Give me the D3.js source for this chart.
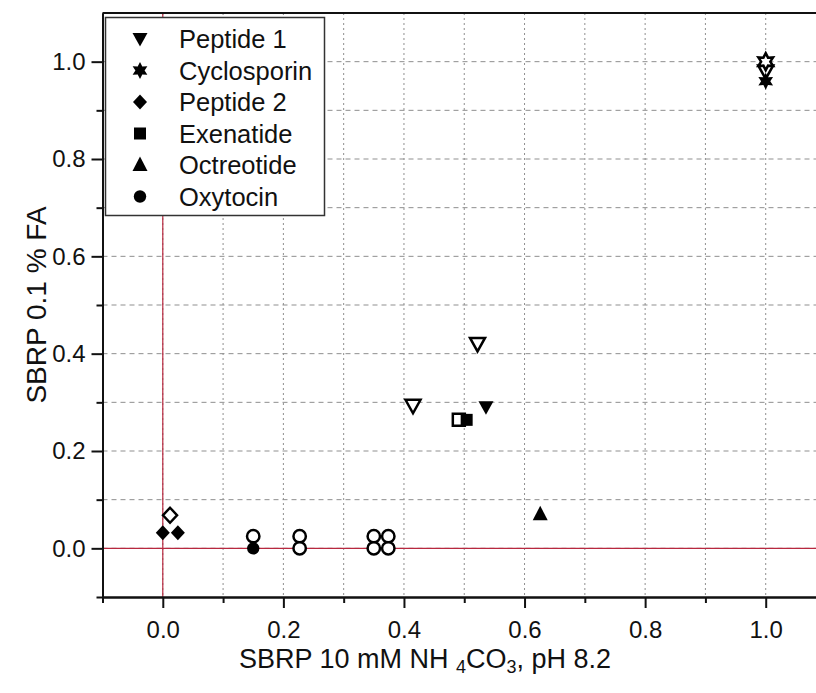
<!DOCTYPE html>
<html>
<head>
<meta charset="utf-8">
<script src="https://cdn.jsdelivr.net/npm/d3@7/dist/d3.min.js"></script>
<style>
  html, body { margin: 0; padding: 0; background: #fff; }
  svg { display: block; }
  text { font-family: "Liberation Sans", Arial, sans-serif; fill: #111; }
</style>
</head>
<body>
<div id="chart"></div>
<script>
// Compounds in legend order, with their marker shape
const compounds = ["Peptide 1", "Cyclosporin", "Peptide 2", "Exenatide", "Octreotide", "Oxytocin"];
const shapes = ["triangleDown", "star6", "diamond", "square", "triangleUp", "circle"];

// Filled markers: [x, y] per compound
const filledPoints = [
  [[0.536, 0.29]],
  [[1.0, 0.96]],
  [[0.0, 0.032], [0.025, 0.032]],
  [[0.504, 0.264]],
  [[0.626, 0.07]],
  [[0.15, 0.0]]
];

// Open markers: [x, y] per compound
const openPoints = [
  [[0.415, 0.293], [0.522, 0.42], [1.0, 0.98]],
  [[1.0, 1.0]],
  [[0.012, 0.068]],
  [[0.491, 0.264]],
  [],
  [[0.15, 0.025], [0.227, 0.025], [0.227, 0.0], [0.35, 0.025], [0.35, 0.0], [0.374, 0.025], [0.374, 0.0]]
];

const xMajor = [0.0, 0.2, 0.4, 0.6, 0.8, 1.0];
const yMajor = [0.0, 0.2, 0.4, 0.6, 0.8, 1.0];
const minorSteps = [-0.1, 0.1, 0.3, 0.5, 0.7, 0.9];
const gridSteps = [0.0, 0.1, 0.2, 0.3, 0.4, 0.5, 0.6, 0.7, 0.8, 0.9, 1.0];

const W = 816, H = 693;
const svg = d3.select("#chart").append("svg")
  .attr("width", W).attr("height", H);

const x = d3.scaleLinear().domain([-0.1, 1.1]).range([102.5, 826]);
const y = d3.scaleLinear().domain([-0.1, 1.1]).range([597, 13]);

// Marker path generators
function markerPath(shape) {
  switch (shape) {
    case "triangleDown": return "M-7.5,-6L7.5,-6L0,7.5Z";
    case "triangleUp": return "M0,-8.5L7.5,6L-7.5,6Z";
    case "square": return "M-6,-6H6V6H-6Z";
    case "diamond": return "M0,-7.5L7,0L0,7.5L-7,0Z";
    case "circle": return d3.arc()({innerRadius: 0, outerRadius: 6.2, startAngle: 0, endAngle: 2 * Math.PI});
    case "star6": {
      const pts = d3.range(12).map(i => {
        const r = i % 2 === 0 ? 8.5 : 4.6;
        const a = i * Math.PI / 6 - Math.PI / 2;
        return [r * Math.cos(a), r * Math.sin(a)];
      });
      return "M" + pts.map(p => p.join(",")).join("L") + "Z";
    }
  }
}

// Grid: dotted verticals, dashed horizontals
const grid = svg.append("g");
grid.selectAll("line.vg").data(gridSteps.concat([1.1])).join("line")
  .attr("x1", d => x(d)).attr("x2", d => x(d))
  .attr("y1", y(1.1)).attr("y2", y(-0.1))
  .attr("stroke", "#8f8f8f").attr("stroke-width", 1)
  .attr("stroke-dasharray", "2,3");
grid.selectAll("line.hg").data(gridSteps).join("line")
  .attr("x1", x(-0.1)).attr("x2", x(1.1))
  .attr("y1", d => y(d)).attr("y2", d => y(d))
  .attr("stroke", "#8f8f8f").attr("stroke-width", 1)
  .attr("stroke-dasharray", "5,4");

// Zero reference lines
svg.append("line")
  .attr("x1", x(-0.1)).attr("x2", x(1.1)).attr("y1", y(0)).attr("y2", y(0))
  .attr("stroke", "#b8283f").attr("stroke-width", 1.2);
svg.append("line")
  .attr("x1", x(0)).attr("x2", x(0)).attr("y1", y(1.1)).attr("y2", y(-0.1))
  .attr("stroke", "#b8283f").attr("stroke-width", 1.2);

// Axes
const xAxis = d3.axisBottom(x).tickValues(xMajor).tickFormat(d3.format(".1f")).tickSize(11).tickSizeOuter(0).tickPadding(13);
const xMinor = d3.axisBottom(x).tickValues(minorSteps).tickFormat("").tickSize(6).tickSizeOuter(0);
const yAxis = d3.axisLeft(y).tickValues(yMajor).tickFormat(d3.format(".1f")).tickSize(11).tickSizeOuter(0).tickPadding(6);
const yMinor = d3.axisLeft(y).tickValues(minorSteps).tickFormat("").tickSize(6).tickSizeOuter(0);

function styleAxis(g) {
  g.select(".domain").attr("stroke", "#111").attr("stroke-width", 2);
  g.selectAll(".tick line").attr("stroke", "#111").attr("stroke-width", 2);
  g.selectAll(".tick text").style("font-size", "24px").attr("fill", "#111")
    .style("font-family", "'Liberation Sans', Arial, sans-serif");
}

svg.append("g").attr("transform", `translate(0,${y(-0.1)})`).call(xMinor).call(styleAxis);
svg.append("g").attr("transform", `translate(0,${y(-0.1)})`).call(xAxis).call(styleAxis);
svg.append("g").attr("transform", `translate(${x(-0.1)},0)`).call(yMinor).call(styleAxis);
svg.append("g").attr("transform", `translate(${x(-0.1)},0)`).call(yAxis).call(styleAxis);

// Top frame
svg.append("line")
  .attr("x1", x(-0.1)).attr("x2", x(1.1)).attr("y1", y(1.1)).attr("y2", y(1.1))
  .attr("stroke", "#111").attr("stroke-width", 2);

// Axis titles
const xt = svg.append("text")
  .attr("x", 425).attr("y", 668)
  .attr("text-anchor", "middle").style("font-size", "27px");
xt.append("tspan").text("SBRP 10 mM NH ");
xt.append("tspan").attr("baseline-shift", "-30%").style("font-size", "18px").text("4");
xt.append("tspan").text("CO");
xt.append("tspan").attr("baseline-shift", "-30%").style("font-size", "18px").text("3");
xt.append("tspan").text(", pH 8.2");

svg.append("text")
  .attr("transform", `translate(46,${y(0.5)}) rotate(-90)`)
  .attr("text-anchor", "middle").style("font-size", "28px")
  .text("SBRP 0.1 % FA");

// Data markers: open first, filled on top
const marks = svg.append("g");
compounds.forEach((c, i) => {
  marks.selectAll(null).data(openPoints[i]).join("path")
    .attr("d", markerPath(shapes[i]))
    .attr("transform", d => `translate(${x(d[0])},${y(d[1])})`)
    .attr("fill", "#fff").attr("stroke", "#000").attr("stroke-width", 2.5);
});
compounds.forEach((c, i) => {
  marks.selectAll(null).data(filledPoints[i]).join("path")
    .attr("d", markerPath(shapes[i]))
    .attr("transform", d => `translate(${x(d[0])},${y(d[1])})`)
    .attr("fill", "#000").attr("stroke", "none");
});

// Legend
const legend = svg.append("g");
legend.append("rect")
  .attr("x", 105.5).attr("y", 17.5).attr("width", 219).attr("height", 198)
  .attr("fill", "#fff").attr("stroke", "#333").attr("stroke-width", 1.5);
const rows = legend.selectAll("g.row").data(compounds).join("g")
  .attr("transform", (d, i) => `translate(0,${39 + i * 31.5})`);
rows.append("path")
  .attr("d", (d, i) => markerPath(shapes[i]))
  .attr("transform", "translate(140,0)")
  .attr("fill", "#000");
rows.append("text")
  .attr("x", 179).attr("y", 9)
  .style("font-size", "25.5px")
  .text(d => d);
</script>
</body>
</html>
